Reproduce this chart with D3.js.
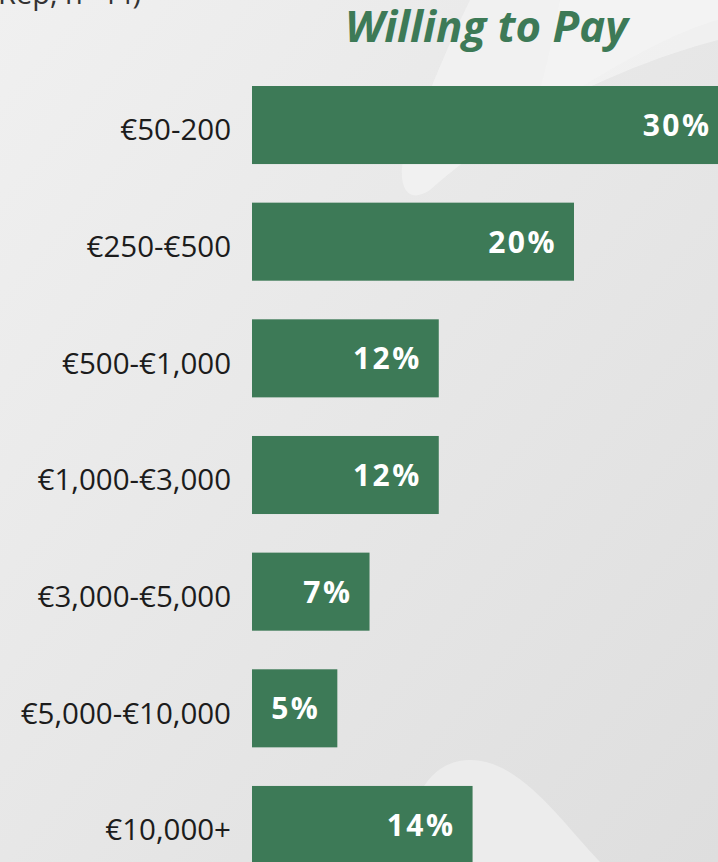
<!DOCTYPE html>
<html><head><meta charset="utf-8">
<script src="https://cdn.jsdelivr.net/npm/d3@7/dist/d3.min.js"></script>
<style>html,body{margin:0;padding:0;overflow:hidden;background:#e8e8e8}</style>
</head><body>
<svg id="c" width="718" height="862"></svg>
<script>
const categories = ["€50-200","€250-€500","€500-€1,000","€1,000-€3,000","€3,000-€5,000","€5,000-€10,000","€10,000+"];
const values = [29.6, 20, 11.6, 11.6, 7.3, 5.3, 13.7];
const title = "Willing to Pay";
const subtitleFragment = "Rep, n=44)";

const W = 718, H = 862;
const svg = d3.select("#c");
const defs = svg.append("defs");
const g1 = defs.append("linearGradient").attr("id","bg").attr("x1","0").attr("y1","0").attr("x2","1").attr("y2","1");
g1.append("stop").attr("offset","0").attr("stop-color","#f0f0f0");
g1.append("stop").attr("offset","1").attr("stop-color","#dedede");
svg.append("rect").attr("width",W).attr("height",H).attr("fill","url(#bg)");
// decorative light swooshes
svg.append("path").attr("d","M470,0 L718,0 L718,40 C640,60 520,110 430,190 C400,210 395,170 410,140 C430,90 450,40 470,0 Z").attr("fill","#f3f3f3").attr("opacity",0.8);
svg.append("path").attr("d","M560,0 L718,0 L718,20 C680,30 620,60 530,120 C545,80 552,40 560,0 Z").attr("fill","#f5f5f5").attr("opacity",0.6);
svg.append("path").attr("d","M410,862 C405,800 430,760 470,760 C520,760 560,820 600,862 Z").attr("fill","#ececec");

const x = d3.scaleLinear().domain([0,30]).range([0,483]);
const y = d3.scaleBand().domain(categories).range([86,864]).paddingInner(0.331).paddingOuter(0);
const x0 = 252;

svg.append("text").attr("x",-2).attr("y",4).attr("font-family","Open Sans").attr("font-size",29).attr("fill","#333").text(subtitleFragment);

const t = svg.append("text").attr("x",345).attr("y",42).attr("font-family","Open Sans").attr("font-weight",700).attr("font-style","italic")
  .attr("font-size",40).attr("fill","#3d7a57").text(title);
const tw = t.node().getComputedTextLength();
t.attr("font-size", 40*283/tw);

svg.selectAll("rect.bar").data(values).join("rect").attr("class","bar")
  .attr("x",x0).attr("y",(d,i)=>y(categories[i])).attr("width",d=>x(d)).attr("height",y.bandwidth())
  .attr("fill","#3d7a57");

svg.selectAll("text.cat").data(categories).join("text").attr("class","cat")
  .attr("x",231).attr("y",d=>y(d)+y.bandwidth()/2).attr("dy","0.52em").attr("text-anchor","end")
  .attr("font-family","Open Sans").attr("font-size",29.5).attr("fill","#1c1c1c").text(d=>d);

svg.selectAll("text.val").data(values).join("text").attr("class","val")
  .attr("x",d=>x0+x(d)-17).attr("y",(d,i)=>y(categories[i])+y.bandwidth()/2).attr("dy","0.37em").attr("text-anchor","end")
  .attr("font-family","Open Sans").attr("font-weight",700).attr("font-size",30).attr("letter-spacing","2.5px")
  .attr("fill","#ffffff").text(d=>Math.round(d)+"%");
</script>
</body></html>
